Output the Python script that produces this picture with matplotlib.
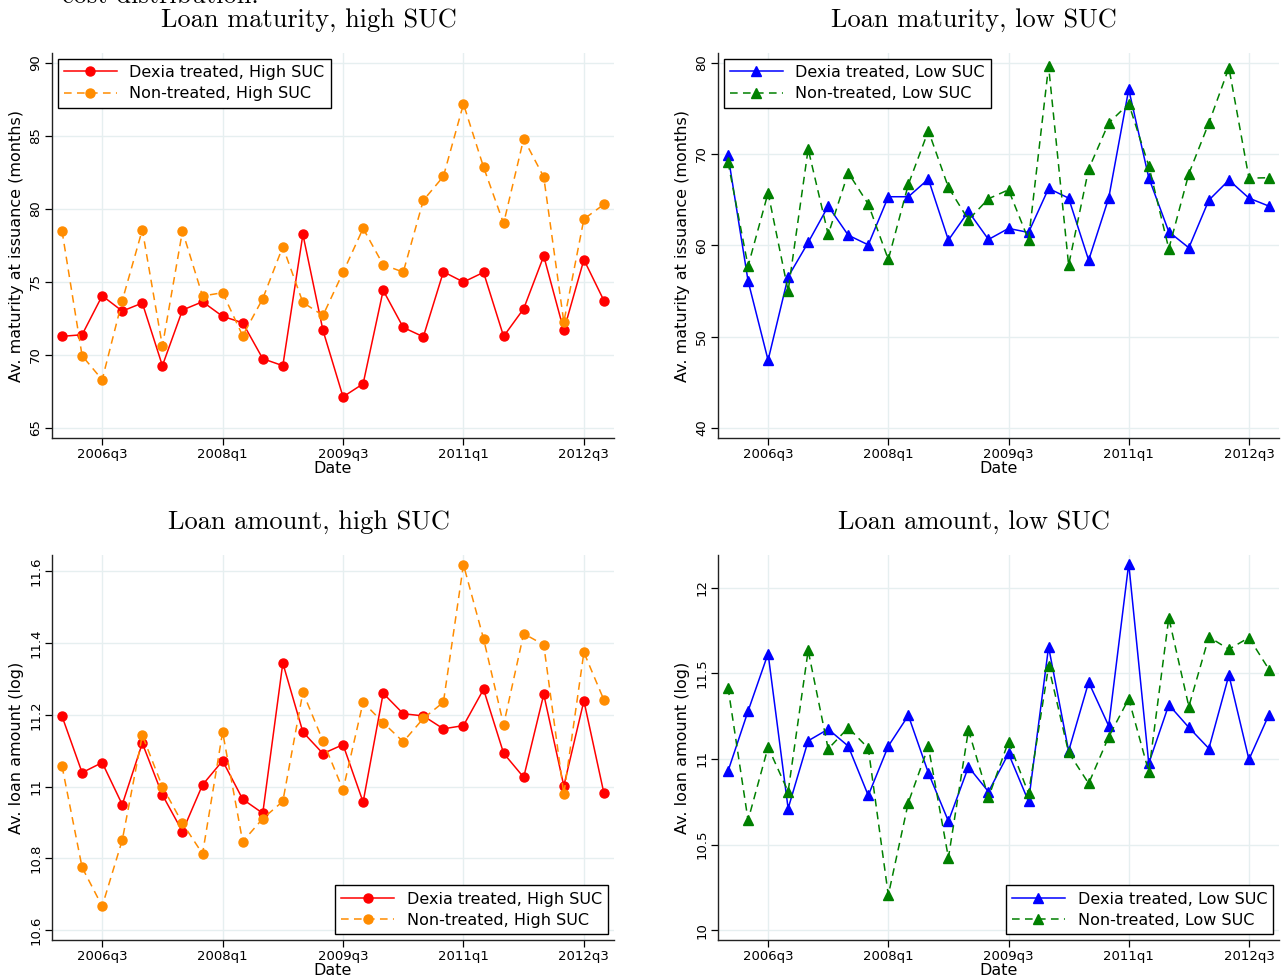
import matplotlib
matplotlib.use("Agg")
import matplotlib.pyplot as plt
import numpy as np

# quarters 2006q1 .. 2012q4
quarters = [f"{y}q{q}" for y in range(2006, 2013) for q in range(1, 5)]
tick_labels = ["2006q3", "2008q1", "2009q3", "2011q1", "2012q3"]

mat_dexia_high = [71.26, 71.37, 74.04, 72.99, 73.54, 69.25, 73.06, 73.63, 72.63, 72.19,
                  69.73, 69.25, 78.24, 71.67, 67.12, 68.01, 74.41, 71.87, 71.23, 75.68,
                  74.98, 75.64, 71.26, 73.15, 76.76, 71.67, 76.51, 73.70]
mat_non_high = [78.47, 69.93, 68.29, 73.70, 78.56, 70.59, 78.47, 74.02, 74.25, 71.30,
                73.84, 77.40, 73.58, 72.69, 75.64, 78.65, 76.16, 75.66, 80.57, 82.21,
                87.17, 82.85, 78.99, 84.79, 82.17, 72.24, 79.29, 80.30]

mat_dexia_low = [69.88, 56.11, 47.42, 56.55, 60.31, 64.29, 61.11, 60.05, 65.32, 65.32,
                 67.25, 60.57, 63.71, 60.64, 61.85, 61.41, 66.23, 65.17, 58.37, 65.17,
                 77.08, 67.40, 61.48, 59.73, 64.95, 67.14, 65.17, 64.29]
mat_non_low = [69.11, 57.72, 65.75, 55.01, 70.54, 61.19, 67.95, 64.51, 58.45, 66.67,
               72.55, 66.34, 62.79, 65.10, 66.08, 60.60, 79.63, 57.83, 68.35, 73.39,
               75.51, 68.71, 59.62, 67.84, 73.39, 79.45, 67.36, 67.40]

amt_dexia_high = [11.196, 11.039, 11.067, 10.950, 11.121, 10.977, 10.875, 11.005, 11.072, 10.965,
                  10.926, 11.344, 11.152, 11.092, 11.117, 10.957, 11.260, 11.203, 11.197, 11.161,
                  11.170, 11.271, 11.093, 11.026, 11.257, 11.002, 11.239, 10.981]
amt_non_high = [11.057, 10.775, 10.667, 10.851, 11.143, 11.000, 10.898, 10.813, 11.152, 10.847,
                10.911, 10.959, 11.263, 11.127, 10.991, 11.235, 11.178, 11.125, 11.190, 11.235,
                11.618, 11.412, 11.172, 11.426, 11.395, 10.979, 11.374, 11.241]

amt_dexia_low = [10.929, 11.279, 11.615, 10.711, 11.106, 11.174, 11.075, 10.787, 11.075, 11.254,
                 10.919, 10.637, 10.954, 10.809, 11.032, 10.752, 11.654, 11.046, 11.448, 11.193,
                 12.140, 10.974, 11.316, 11.184, 11.061, 11.489, 10.997, 11.259]
amt_non_low = [11.417, 10.643, 11.069, 10.810, 11.633, 11.059, 11.182, 11.063, 10.206, 10.746,
               11.073, 10.424, 11.168, 10.776, 11.102, 10.799, 11.541, 11.038, 10.857, 11.129,
               11.351, 10.925, 11.823, 11.306, 11.712, 11.640, 11.708, 11.522]

W, H = 1282, 980
fig = plt.figure(figsize=(W / 100, H / 100), dpi=100)

grid_col = "#e6eff0"
x = np.arange(len(quarters))
tick_pos = [quarters.index(t) for t in tick_labels]


def make_ax(left, top, right, bottom):
    ax = fig.add_axes([left / W, 1 - bottom / H, (right - left) / W, (bottom - top) / H])
    for s in ("top", "right"):
        ax.spines[s].set_visible(False)
    for s in ("left", "bottom"):
        ax.spines[s].set_color("#222222")
        ax.spines[s].set_linewidth(1.0)
    ax.grid(True, color=grid_col, linewidth=1.0)
    ax.set_axisbelow(True)
    ax.set_xlim(-0.5, len(quarters) - 0.5)
    ax.set_xticks(tick_pos)
    ax.set_xticklabels(tick_labels)
    ax.tick_params(axis="both", labelsize=9.5, length=5, width=0.9, direction="out", pad=2)
    ax.set_xlabel("Date", fontsize=11.5, labelpad=0)
    return ax


def draw(ax, a, b, labs, cols, marker, ylim, yticks, ylabel, loc, title, tx, ty):
    ax.plot(x, a, color=cols[0], linestyle="-", marker=marker, markersize=6.5,
            linewidth=1.1, label=labs[0])
    ax.plot(x, b, color=cols[1], linestyle=(0, (5, 3.5)), marker=marker, markersize=6.5,
            linewidth=1.1, label=labs[1])
    ax.set_ylim(*ylim)
    ax.set_yticks(yticks)
    ax.set_yticklabels([f"{v:g}" for v in yticks], rotation=90, va="center")
    ax.set_ylabel(ylabel, fontsize=11.5, labelpad=4)
    leg = ax.legend(loc=loc, fontsize=11.5, frameon=True, fancybox=False,
                    edgecolor="black", framealpha=1, borderpad=0.4,
                    handlelength=3.3, labelspacing=0.4, borderaxespad=0.35)
    leg.get_frame().set_linewidth(1.0)
    fig.text(tx / W, 1 - ty / H, title, fontsize=19, family="cmr10",
             ha="center", va="baseline")


high_cols = ["red", "darkorange"]
low_cols = ["blue", "green"]
high_labs = ["Dexia treated, High SUC", "Non-treated, High SUC"]
low_labs = ["Dexia treated, Low SUC", "Non-treated, Low SUC"]

ax1 = make_ax(52, 53, 614, 438)
draw(ax1, mat_dexia_high, mat_non_high, high_labs, high_cols, "o", (64.3, 90.66),
     [65, 70, 75, 80, 85, 90], "Av. maturity at issuance (months)", "upper left",
     "Loan maturity, high SUC", 309, 27)

ax2 = make_ax(718, 53, 1279, 438)
draw(ax2, mat_dexia_low, mat_non_low, low_labs, low_cols, "^", (38.9, 81.06),
     [40, 50, 60, 70, 80], "Av. maturity at issuance (months)", "upper left",
     "Loan maturity, low SUC", 974, 27)

ax3 = make_ax(52, 555, 614, 940)
draw(ax3, amt_dexia_high, amt_non_high, high_labs, high_cols, "o", (10.573, 11.645),
     [10.6, 10.8, 11, 11.2, 11.4, 11.6], "Av. loan amount (log)", "lower right",
     "Loan amount, high SUC", 309, 529)

ax4 = make_ax(718, 555, 1279, 940)
draw(ax4, amt_dexia_low, amt_non_low, low_labs, low_cols, "^", (9.944, 12.19),
     [10, 10.5, 11, 11.5, 12], "Av. loan amount (log)", "lower right",
     "Loan amount, low SUC", 974, 529)

# cropped caption from the page above (cut off at the top in the reference too)
fig.text(62 / W, 1 - 3 / H, "cost distribution.", fontsize=19, family="cmr10",
         ha="left", va="baseline")

fig.savefig("out.png", dpi=100)
